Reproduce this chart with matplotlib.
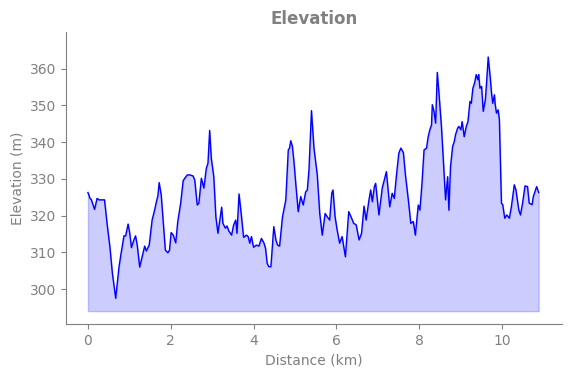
import matplotlib
matplotlib.use("Agg")
import matplotlib.pyplot as plt

distance_km = [
    0.00, 0.05, 0.08, 0.16, 0.22, 0.27, 0.40, 0.47, 0.53, 0.59, 0.67, 0.75, 0.80, 0.87, 0.91,
    0.97, 1.01, 1.05, 1.11, 1.15, 1.19, 1.25, 1.31, 1.37, 1.41, 1.48, 1.55, 1.61, 1.66, 1.69,
    1.72, 1.77, 1.82, 1.87, 1.93, 1.97, 2.01, 2.06, 2.12, 2.17, 2.24, 2.30, 2.34, 2.40, 2.46,
    2.54, 2.58, 2.64, 2.68, 2.74, 2.80, 2.86, 2.90, 2.94, 2.98, 3.04, 3.09, 3.14, 3.23, 3.26,
    3.32, 3.36, 3.40, 3.47, 3.52, 3.57, 3.60, 3.65, 3.71, 3.76, 3.83, 3.87, 3.91, 3.95, 4.00,
    4.07, 4.13, 4.19, 4.25, 4.29, 4.33, 4.37, 4.42, 4.49, 4.54, 4.58, 4.63, 4.70, 4.74, 4.78,
    4.84, 4.87, 4.90, 4.94, 4.98, 5.02, 5.08, 5.14, 5.20, 5.26, 5.30, 5.34, 5.40, 5.46, 5.54,
    5.60, 5.66, 5.73, 5.78, 5.84, 5.89, 5.92, 5.97, 6.02, 6.08, 6.14, 6.22, 6.30, 6.37, 6.42,
    6.48, 6.55, 6.61, 6.67, 6.72, 6.79, 6.83, 6.87, 6.92, 6.95, 7.03, 7.11, 7.16, 7.21, 7.29,
    7.35, 7.40, 7.45, 7.51, 7.56, 7.62, 7.67, 7.74, 7.80, 7.86, 7.91, 7.98, 8.02, 8.07, 8.12,
    8.18, 8.22, 8.26, 8.30, 8.32, 8.36, 8.40, 8.44, 8.48, 8.54, 8.61, 8.64, 8.69, 8.72, 8.76,
    8.81, 8.85, 8.88, 8.93, 8.96, 9.01, 9.04, 9.09, 9.14, 9.18, 9.23, 9.26, 9.30, 9.34, 9.38,
    9.42, 9.44, 9.47, 9.51, 9.55, 9.60, 9.63, 9.67, 9.72, 9.75, 9.78, 9.82, 9.84, 9.87, 9.91,
    9.94, 9.99, 10.02, 10.07, 10.12, 10.18, 10.23, 10.30, 10.34, 10.41, 10.45, 10.50, 10.56,
    10.62, 10.66, 10.73, 10.76, 10.84, 10.89,
]

elevation_m = [
    326.3, 324.7, 324.4, 321.7, 324.7, 324.3, 324.3, 317.0, 311.5, 304.3, 297.5, 306.0, 309.7, 314.5, 314.5,
    317.7, 315.2, 311.3, 313.4, 314.5, 312.0, 306.0, 308.8, 311.7, 310.4, 312.0, 318.8, 321.5, 324.1, 325.4,
    329.0, 325.6, 317.9, 310.6, 309.9, 310.6, 315.4, 314.7, 312.6, 318.4, 323.4, 329.5, 330.2, 331.1, 331.1,
    330.8, 329.7, 322.9, 323.4, 330.2, 327.5, 332.9, 334.3, 343.2, 335.6, 330.6, 319.7, 315.2, 322.3, 317.9,
    316.6, 317.2, 315.9, 314.7, 317.5, 318.8, 315.2, 325.9, 319.7, 314.1, 314.7, 314.3, 312.5, 314.3, 311.4,
    312.0, 311.7, 313.8, 312.6, 311.1, 307.0, 306.1, 306.1, 317.0, 313.4, 312.0, 311.7, 319.7, 322.0, 324.3,
    337.9, 338.4, 340.4, 338.8, 334.3, 328.8, 321.1, 325.2, 322.9, 326.5, 327.0, 332.5, 348.6, 338.4, 331.1,
    320.6, 314.7, 320.6, 319.7, 318.8, 326.1, 327.0, 319.7, 316.1, 312.5, 314.3, 308.8, 321.1, 319.3, 317.9,
    317.5, 313.4, 315.2, 322.6, 318.8, 324.3, 327.0, 323.8, 327.9, 328.8, 320.2, 327.5, 329.7, 332.0, 322.4,
    326.1, 324.7, 330.6, 337.0, 338.4, 337.2, 331.1, 324.3, 317.9, 318.4, 314.7, 322.9, 321.5, 328.8, 337.9,
    338.4, 341.5, 343.4, 344.7, 350.2, 348.4, 345.2, 359.0, 353.4, 344.3, 330.6, 324.3, 330.6, 321.5, 333.4,
    338.8, 340.2, 342.0, 343.8, 344.3, 343.4, 345.6, 341.5, 344.3, 345.6, 351.1, 350.6, 354.7, 356.1, 358.4,
    357.0, 358.4, 354.7, 355.2, 348.4, 351.5, 356.1, 363.2, 357.5, 353.4, 350.6, 352.9, 350.2, 347.9, 348.8,
    346.1, 323.4, 323.0, 319.3, 320.2, 319.3, 322.4, 328.4, 327.0, 321.5, 320.2, 323.4, 328.1,
    327.9, 323.4, 323.0, 325.2, 327.9, 326.3,
]

fill_base = 294

title = "Elevation"
xlabel = "Distance (km)"
ylabel = "Elevation (m)"

gray = "#808080"

fig = plt.figure(figsize=(5.71, 3.78), dpi=100)
ax = fig.add_axes([0.1156, 0.1429, 0.8684, 0.7724])

ax.fill_between(distance_km, elevation_m, fill_base, color="blue", alpha=0.2)
ax.plot(distance_km, elevation_m, color="blue", linewidth=1.0)

ax.set_xlim(-0.53, 11.45)
ax.set_ylim(290.5, 370)
ax.set_xticks([0, 2, 4, 6, 8, 10])
ax.set_yticks([300, 310, 320, 330, 340, 350, 360])

ax.set_title(title, color=gray, fontsize=12, fontweight="bold")
ax.set_xlabel(xlabel, color=gray, fontsize=10)
ax.set_ylabel(ylabel, color=gray, fontsize=10)

for side in ("top", "right"):
    ax.spines[side].set_visible(False)
for side in ("left", "bottom"):
    ax.spines[side].set_color(gray)
ax.tick_params(colors=gray, labelsize=10)

fig.savefig("out.png", dpi=100)
